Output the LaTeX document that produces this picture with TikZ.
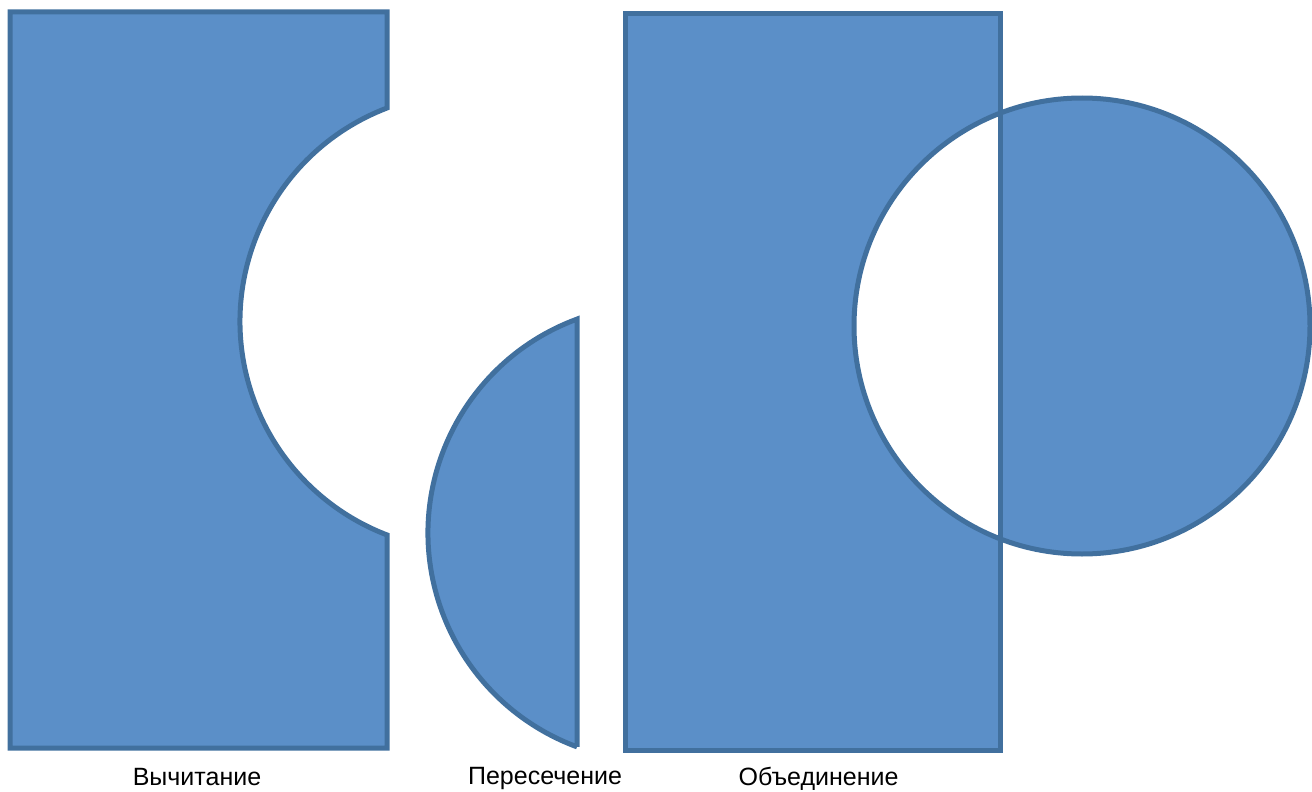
\documentclass[tikz,border=0pt]{standalone}
\usepackage{fontspec}
\setmainfont{Liberation Sans}
\definecolor{fillc}{HTML}{5B8FC8}
\definecolor{linec}{HTML}{41709E}
\tikzset{
  blob/.style={fill=fillc, draw=linec, line width=5pt, line join=miter},
  lbl/.style={font=\fontsize{25}{27}\selectfont, inner sep=0pt, anchor=base}
}
\begin{document}
\begin{tikzpicture}[x=1pt,y=-1pt]
\useasboundingbox (0,0) rectangle (1312,792);
% subtraction
\path[blob] (10,12) -- (387,12) -- (387,108)
  arc[start angle=249.1, end angle=110.9, radius=228.5]
  -- (387,748) -- (10,748) -- cycle;
% intersection
\path[blob] (577,746.9) -- (577,319.1)
  arc[start angle=249.73, end angle=110.27, radius=228] -- cycle;
% union
\path[fill=fillc, even odd rule] (625,14) rectangle (1000,750) (1082,326) circle[radius=228];
\draw[blob, fill=none] (625,14) rectangle (1000,750);
\draw[blob, fill=none] (1082,326) circle[radius=228];
% labels
\node[lbl] (l1) at (197,785.5) {Вычитание};
\node[lbl] (l2) at (545,784.3) {Пересечение};
\node[lbl] (l3) at (818.5,785.5) {Объединение};
\end{tikzpicture}
\end{document}
